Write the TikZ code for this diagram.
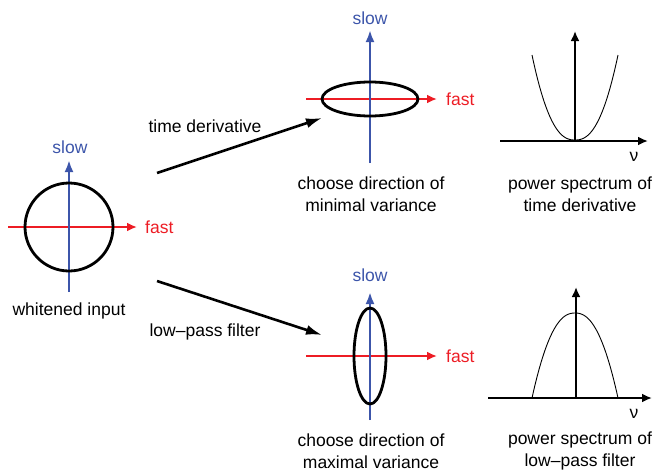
\documentclass[tikz,border=0pt]{standalone}
\usepackage{fontspec}
\setmainfont{Liberation Sans}
\usetikzlibrary{arrows.meta}
\definecolor{slowblue}{RGB}{60,85,170}
\definecolor{fastred}{RGB}{237,28,36}

\begin{document}
\begin{tikzpicture}[x=1pt, y=-1pt,
    lbl/.style={font=\fontsize{17.5}{21.5}\selectfont, align=center, inner sep=0pt},
    fastaxis/.style={fastred, line width=2.4pt, -{Latex[length=10pt,width=9pt]}},
    slowaxis/.style={slowblue, line width=2.4pt, -{Latex[length=12pt,width=9pt]}},
    spec/.style={line width=2.6pt, -{Latex[length=10pt,width=9pt]}},
    step arrow/.style={line width=2.6pt, -{Latex[length=16pt,width=10pt]}}]
    \useasboundingbox (0, 0) rectangle (655, 472);

    % whitened input
    \coordinate (wi) at (69, 227);
    \draw[fastaxis] (8, 227) -- (137, 227);
    \draw[slowaxis] (69, 292) -- (69, 160);
    \draw[line width=2.8pt] (wi) circle (44);
    \node[lbl, fastred, anchor=west] (wifast) at (145, 227) {fast};
    \node[lbl, slowblue] (wislow) at (70, 147) {slow};
    \node[lbl] (wilabel) at (69, 311) {whitened input};

    % the two transformed inputs
    \coordinate (td) at (370, 99);
    \coordinate (lp) at (370, 356);
    \foreach \c/\ys in {td/99, lp/356} {
      \draw[fastaxis] (306, \ys) -- (437, \ys);
      \node[lbl, fastred, anchor=west] (\c fast) at (446, \ys) {fast};
      }
    \draw[slowaxis] (370, 163) -- (370, 30);
    \draw[slowaxis] (370, 420) -- (370, 292);
    \draw[line width=2.8pt] (td) ellipse (48 and 17);
    \draw[line width=2.8pt] (lp) ellipse (16 and 48);
    \node[lbl, slowblue] (tdslow) at (370, 18) {slow};
    \node[lbl, slowblue] (lpslow) at (370, 275) {slow};
    \node[lbl] (tdlabel) at (371, 194) {choose direction of\\minimal variance};
    \node[lbl] (lplabel) at (371, 451) {choose direction of\\maximal variance};

    % steps
    \coordinate (tdfrom) at (157, 173);
    \coordinate (tdto) at (322, 118);
    \coordinate (lpfrom) at (157, 281);
    \coordinate (lpto) at (322, 335);
    \draw[step arrow] (tdfrom) -- (tdto);
    \draw[step arrow] (lpfrom) -- (lpto);
    \node[lbl] (tdstep) at (205, 126) {time derivative};
    \node[lbl] (lpstep) at (205, 332) {low--pass filter};

    % power spectra
    \draw[spec] (500, 141) -- (648, 141);
    \draw[spec] (575, 141) -- (575, 31);
    \draw[line width=0.9pt] plot[domain=-43:43, samples=61] ({575+\x}, {140-85*pow(abs(\x)/43, 2.4)});
    \node[lbl] (tdnu) at (634, 157) {ν};
    \node[lbl] (tdspec) at (580, 194) {power spectrum of\\time derivative};

    \draw[spec] (488, 398) -- (652, 398);
    \draw[spec] (576, 398) -- (576, 287);
    \draw[line width=0.9pt] plot[domain=-43:43, samples=61] ({575+\x}, {313+85*pow(abs(\x)/43, 2.3)});
    \node[lbl] (lpnu) at (634, 414) {ν};
    \node[lbl] (lpspec) at (580, 451) {power spectrum of\\low--pass filter};
  \end{tikzpicture}
\end{document}
